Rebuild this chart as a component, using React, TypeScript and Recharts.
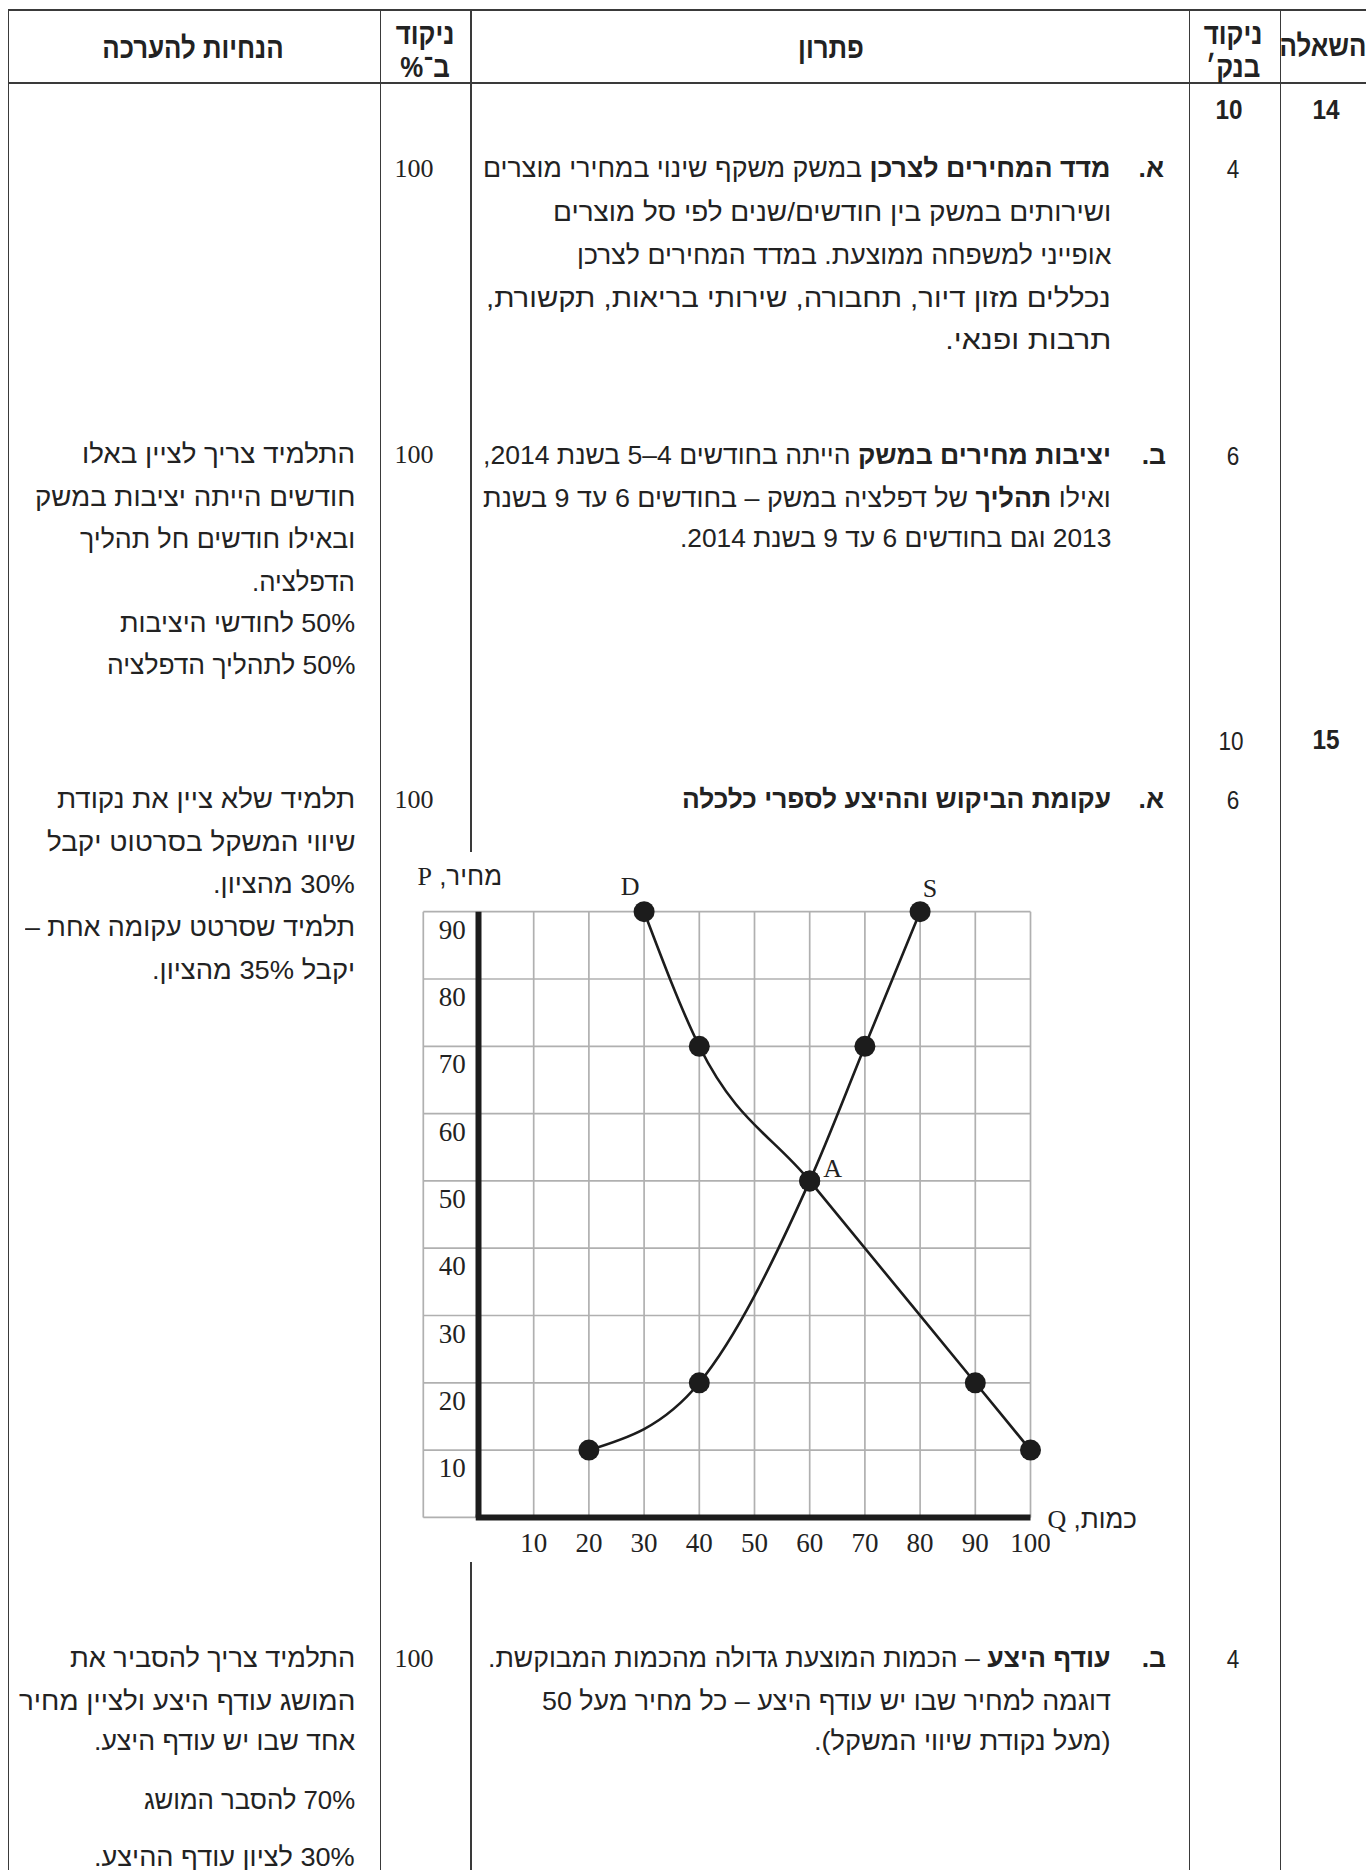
import React, { useLayoutEffect, useRef, useState } from 'react';
import { ComposedChart, Line, Scatter, XAxis, YAxis, CartesianGrid, ReferenceLine } from 'recharts';

// ---------- chart data ----------
const quantityTicks = [-10, 0, 10, 20, 30, 40, 50, 60, 70, 80, 90, 100];
const priceTicks = [0, 10, 20, 30, 40, 50, 60, 70, 80, 90];
const demandQ = [30, 40, 60, 90, 100];
const demandP = [90, 70, 50, 20, 10];
const supplyQ = [20, 40, 60, 70, 80];
const supplyP = [10, 20, 50, 70, 90];
const curveLabels = ['D', 'S', 'A'];
const curveLabelQ = [30, 80, 60];
const curveLabelP = [90, 90, 50];

const demand = demandQ.map((q, i) => ({ q, p: demandP[i] }));
const supply = supplyQ.map((q, i) => ({ q, p: supplyP[i] }));
const labelPoints = curveLabels.map((name, i) => ({ name, q: curveLabelQ[i], p: curveLabelP[i] }));

// ---------- layout constants ----------
const PAGE_W = 1366;
const PAGE_H = 1870;
const INK = '#222';
const RULE = '#3a3a3a';
const SANS = '"Liberation Sans", Arial, sans-serif';
const SERIF = '"Liberation Serif", "Times New Roman", serif';

const CH_LEFT = 330;
const CH_TOP = 860;
const CH_W = 720;
const CH_H = 720;
const MARGIN = { top: 51.7, right: 19.5, bottom: 22.6, left: 53.3 };
const Y_AXIS_W = 40;
const X_AXIS_H = 40;
const PLOT_LEFT = MARGIN.left + Y_AXIS_W;
const PLOT_BOTTOM = CH_H - MARGIN.bottom - X_AXIS_H;

type Seg = string | { b: string };

const BODY = 26.5;

function TextLine({ right, y, left, size = BODY, family = SANS, weight = 400, children }: any) {
  const ref = useRef<HTMLDivElement>(null);
  const [sx, setSx] = useState(1);
  useLayoutEffect(() => {
    if (left == null || !ref.current) return;
    const w = ref.current.offsetWidth;
    if (!w) return;
    let s = (right - left) / w;
    s = Math.max(0.8, Math.min(1.15, s));
    setSx(s);
  }, []);
  return (
    <div
      ref={ref}
      dir="rtl"
      style={{
        position: 'absolute',
        right: PAGE_W - right,
        top: y - size * 0.66,
        fontSize: size,
        lineHeight: `${size * 1.2}px`,
        fontFamily: family,
        fontWeight: weight,
        whiteSpace: 'nowrap',
        color: INK,
        transform: `scaleX(${sx})`,
        transformOrigin: 'right center',
      }}
    >
      {children}
    </div>
  );
}

function Centered({ cx, y, size = 25, family = SERIF, weight = 400, sx = 1, children }: any) {
  return (
    <div
      dir="rtl"
      style={{
        position: 'absolute',
        left: cx - 200,
        width: 400,
        textAlign: 'center',
        top: y - size * 0.66,
        fontSize: size,
        lineHeight: `${size * 1.2}px`,
        fontFamily: family,
        fontWeight: weight,
        whiteSpace: 'nowrap',
        color: INK,
        transform: `scaleX(${sx})`,
        transformOrigin: 'center center',
        pointerEvents: 'none',
      }}
    >
      {children}
    </div>
  );
}

const Head = ({ cx, y, children }: any) => (
  <Centered cx={cx} y={y} size={30} family={SANS} weight={700} sx={0.86}>{children}</Centered>
);

function renderSegs(segs: Seg[]) {
  return segs.map((s, i) =>
    typeof s === 'string' ? <span key={i}>{s}</span> : <b key={i}>{s.b}</b>
  );
}

function Block({ lines, ys, lefts, right }: { lines: Seg[][]; ys: number[]; lefts: (number | undefined)[]; right: number }) {
  return (
    <>
      {lines.map((l, i) => (
        <TextLine key={i} right={right} y={ys[i]} left={lefts[i]}>
          {renderSegs(l)}
        </TextLine>
      ))}
    </>
  );
}

// ---------- texts ----------
const MID_RIGHT = 1111;
const LEFT_RIGHT = 355;

const q14a: Seg[][] = [
  [{ b: 'מדד המחירים לצרכן' }, ' במשק משקף שינוי במחירי מוצרים'],
  ['ושירותים במשק בין חודשים/שנים לפי סל מוצרים'],
  ['אופייני למשפחה ממוצעת. במדד המחירים לצרכן'],
  ['נכללים מזון דיור, תחבורה, שירותי בריאות, תקשורת,'],
  ['תרבות ופנאי.'],
];
const q14aY = [170, 214, 257, 300, 342];
const q14aL = [483, 553, 577, 486, 821];

const q14b: Seg[][] = [
  [{ b: 'יציבות מחירים במשק' }, ' הייתה בחודשים 4–5 בשנת 2014,'],
  ['ואילו ', { b: 'תהליך' }, ' של דפלציה במשק – בחודשים 6 עד 9 בשנת'],
  ['2013 וגם בחודשים 6 עד 9 בשנת 2014.'],
];
const q14bY = [457, 500, 540];
const q14bL = [483, 483, 680];

const q15a: Seg[][] = [[{ b: 'עקומת הביקוש וההיצע לספרי כלכלה' }]];
const q15aY = [801];
const q15aL = [682];

const q15b: Seg[][] = [
  [{ b: 'עודף היצע' }, ' – הכמות המוצעת גדולה מהכמות המבוקשת.'],
  ['דוגמה למחיר שבו יש עודף היצע – כל מחיר מעל 50'],
  ['(מעל נקודת שיווי המשקל).'],
];
const q15bY = [1660, 1703, 1743];
const q15bL = [488, 542, 814];

const g14b: Seg[][] = [
  ['התלמיד צריך לציין באלו'],
  ['חודשים הייתה יציבות במשק'],
  ['ובאילו חודשים חל תהליך'],
  ['הדפלציה.'],
  ['50% לחודשי היציבות'],
  ['50% לתהליך הדפלציה'],
];
const g14bY = [456, 499, 541, 584, 625, 667];
const g14bL = [82, 35, 80, 252, 120, 107];

const g15a: Seg[][] = [
  ['תלמיד שלא ציין את נקודת'],
  ['שיווי המשקל בסרטוט יקבל'],
  ['30% מהציון.'],
  ['תלמיד שסרטט עקומה אחת –'],
  ['יקבל 35% מהציון.'],
];
const g15aY = [801, 844, 886, 929, 972];
const g15aL = [57, 47, 213, 25, 152];

const g15b: Seg[][] = [
  ['התלמיד צריך להסביר את'],
  ['המושג עודף היצע ולציין מחיר'],
  ['אחד שבו יש עודף היצע.'],
  ['70% להסבר המושג'],
  ['30% לציון עודף ההיצע.'],
];
const g15bY = [1660, 1703, 1743, 1802, 1859];
const g15bL = [70, 19, 94, 144, 94];

// ---------- chart parts ----------
const YTick = (props: any) => {
  const { y, payload } = props;
  if (payload.value === 0) return <g />;
  return (
    <text x={PLOT_LEFT + 29} y={y + 18} textAnchor="middle" dominantBaseline="central"
      fontFamily={SERIF} fontSize={27} fill={INK}>
      {payload.value}
    </text>
  );
};

const XTick = (props: any) => {
  const { x, payload } = props;
  if (payload.value <= 0) return <g />;
  return (
    <text x={x} y={PLOT_BOTTOM + 26} textAnchor="middle" dominantBaseline="central"
      fontFamily={SERIF} fontSize={27} fill={INK}>
      {payload.value}
    </text>
  );
};

const renderDot = (props: any) => (
  <circle key={`d-${props.index}`} cx={props.cx} cy={props.cy} r={10.5} fill="#1c1c1c" />
);

const LABEL_OFFSET: Record<string, [number, number]> = {
  D: [-14, -25],
  S: [10, -23],
  A: [23, -12],
};

const renderCurveLabel = (props: any) => {
  const { cx, cy, payload } = props;
  const [dx, dy] = LABEL_OFFSET[payload.name] || [0, 0];
  return (
    <text x={cx + dx} y={cy + dy} textAnchor="middle" dominantBaseline="central"
      fontFamily={SERIF} fontSize={26} fill={INK}>
      {payload.name}
    </text>
  );
};

function SupplyDemandChart() {
  return (
    <div style={{ position: 'absolute', left: CH_LEFT, top: CH_TOP, width: CH_W, height: CH_H }}>
      <ComposedChart width={CH_W} height={CH_H} margin={MARGIN} style={{ overflow: 'visible' }}>
        <CartesianGrid stroke="#b0b0b0" strokeWidth={1.7} />
        <XAxis type="number" dataKey="q" domain={[-10, 100]} ticks={quantityTicks} interval={0}
          axisLine={false} tickLine={false} height={X_AXIS_H} tick={<XTick />} />
        <YAxis type="number" dataKey="p" domain={[0, 90]} ticks={priceTicks} interval={0}
          axisLine={false} tickLine={false} width={Y_AXIS_W} tick={<YTick />} />
        <ReferenceLine segment={[{ x: 0, y: 0 }, { x: 0, y: 90 }]} stroke="#1c1c1c" strokeWidth={6} ifOverflow="visible" />
        <ReferenceLine segment={[{ x: -0.5, y: 0 }, { x: 100, y: 0 }]} stroke="#1c1c1c" strokeWidth={6} ifOverflow="visible" />
        <Line data={demand} dataKey="p" type="monotone" stroke="#1c1c1c" strokeWidth={2.6}
          dot={renderDot} activeDot={false} isAnimationActive={false} />
        <Line data={supply} dataKey="p" type="monotone" stroke="#1c1c1c" strokeWidth={2.6}
          dot={renderDot} activeDot={false} isAnimationActive={false} />
        <Scatter data={labelPoints} dataKey="p" shape={renderCurveLabel} isAnimationActive={false} />
      </ComposedChart>
    </div>
  );
}

// ---------- page ----------
const HLine = ({ y, x1, x2, w = 1.2 }: any) => (
  <div style={{ position: 'absolute', left: x1, top: y - w / 2, width: x2 - x1, height: w, background: RULE }} />
);
const VLine = ({ x, y1, y2, w = 1.2 }: any) => (
  <div style={{ position: 'absolute', left: x - w / 2, top: y1, width: w, height: y2 - y1, background: RULE }} />
);

export default function App() {
  return (
    <div style={{ position: 'absolute', left: 0, top: 0, width: PAGE_W, height: PAGE_H, overflow: 'hidden', background: '#fff' }}>
      {/* table rules */}
      <HLine y={9.5} x1={8} x2={PAGE_W} w={2} />
      <HLine y={82.5} x1={8} x2={PAGE_W} w={2} />
      <VLine x={8.5} y1={9} y2={PAGE_H} />
      <VLine x={380.5} y1={9} y2={PAGE_H} />
      <VLine x={471} y1={9} y2={852} />
      <VLine x={471} y1={1562} y2={PAGE_H} />
      <VLine x={1189.5} y1={9} y2={PAGE_H} />
      <VLine x={1280.5} y1={9} y2={PAGE_H} />

      {/* header */}
      <Head cx={193} y={50}>הנחיות להערכה</Head>
      <Head cx={425} y={36}>ניקוד</Head>
      <Head cx={425} y={69}>ב־%</Head>
      <Head cx={831} y={50}>פתרון</Head>
      <Head cx={1233} y={36}>ניקוד</Head>
      <Head cx={1233} y={69}>בנק׳</Head>
      <Head cx={1323} y={48}>השאלה</Head>

      {/* question numbers / points */}
      <Centered cx={1229} y={112} size={27} family={SANS} weight={700} sx={0.9}>10</Centered>
      <Centered cx={1326} y={112} size={27} family={SANS} weight={700} sx={0.9}>14</Centered>
      <Centered cx={1233} y={170} size={25} family={SANS} sx={0.9}>4</Centered>
      <Centered cx={1233} y={457} size={25} family={SANS} sx={0.9}>6</Centered>
      <Centered cx={1231} y={742} size={25} family={SANS} sx={0.9}>10</Centered>
      <Centered cx={1326} y={742} size={27} family={SANS} weight={700} sx={0.9}>15</Centered>
      <Centered cx={1233} y={801} size={25} family={SANS} sx={0.9}>6</Centered>
      <Centered cx={1233} y={1660} size={25} family={SANS} sx={0.9}>4</Centered>

      {/* percent column */}
      <Centered cx={414} y={170} size={26}>100</Centered>
      <Centered cx={414} y={456} size={26}>100</Centered>
      <Centered cx={414} y={801} size={26}>100</Centered>
      <Centered cx={414} y={1660} size={26}>100</Centered>

      {/* item letters */}
      <TextLine right={1164} y={170} weight={700}>א.</TextLine>
      <TextLine right={1166} y={457} weight={700}>ב.</TextLine>
      <TextLine right={1164} y={801} weight={700}>א.</TextLine>
      <TextLine right={1166} y={1660} weight={700}>ב.</TextLine>

      {/* solution text */}
      <Block lines={q14a} ys={q14aY} lefts={q14aL} right={MID_RIGHT} />
      <Block lines={q14b} ys={q14bY} lefts={q14bL} right={MID_RIGHT} />
      <Block lines={q15a} ys={q15aY} lefts={q15aL} right={MID_RIGHT} />
      <Block lines={q15b} ys={q15bY} lefts={q15bL} right={MID_RIGHT} />

      {/* guidance text */}
      <Block lines={g14b} ys={g14bY} lefts={g14bL} right={LEFT_RIGHT} />
      <Block lines={g15a} ys={g15aY} lefts={g15aL} right={LEFT_RIGHT} />
      <Block lines={g15b} ys={g15bY} lefts={g15bL} right={LEFT_RIGHT} />

      {/* chart */}
      <SupplyDemandChart />
      <TextLine right={502} y={878} size={26}>
        <span>מחיר, </span>
        <span style={{ fontFamily: SERIF }}>P</span>
      </TextLine>
      <TextLine right={1137} y={1521} size={26}>
        <span>כמות, </span>
        <span style={{ fontFamily: SERIF }}>Q</span>
      </TextLine>
    </div>
  );
}
